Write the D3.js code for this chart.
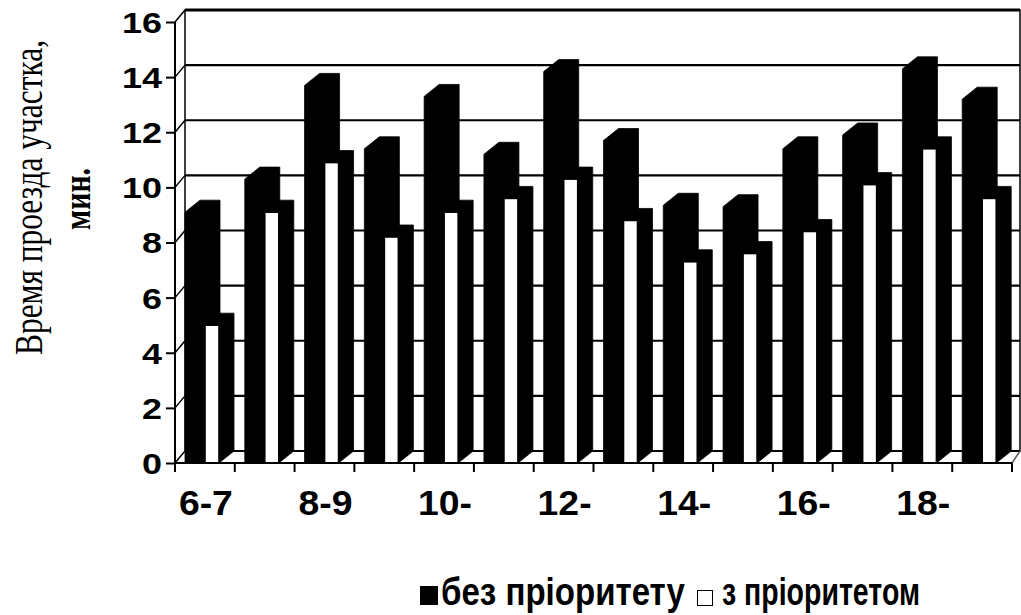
<!DOCTYPE html>
<html><head><meta charset="utf-8">
<script src="https://cdn.jsdelivr.net/npm/d3@7"></script>
<style>html,body{margin:0;padding:0;background:#fff;}svg{display:block;}</style>
</head><body>
<svg id="chart" width="1021" height="615"></svg>
<script>
const categories = ["6-7","7-8","8-9","9-10","10-11","11-12","12-13","13-14","14-15","15-16","16-17","17-18","18-19","19-20"];
const tickLabels = ["6-7","8-9","10-","12-","14-","16-","18-"];
const seriesNames = ["без пріоритету","з пріоритетом"];
const noPriority = [9.1,10.3,13.7,11.4,13.3,11.2,14.2,11.7,9.35,9.3,11.4,11.9,14.3,13.2];
const withPriority = [5.0,9.1,10.9,8.2,9.1,9.6,10.3,8.8,7.3,7.6,8.4,10.1,11.4,9.6];
const yTicks = [0,2,4,6,8,10,12,14,16];
const yTitle = ["Время проезда участка,","мин."];

const svg = d3.select("#chart");
const x = d3.scaleBand().domain(categories).range([175,1012]).padding(0);
const y = d3.scaleLinear().domain([0,16]).range([463,22]);
const wallDx = 10, wallDy = 12;
const barDx = 15, barDy = 12;
const backR = 1020;

// back wall
svg.append("rect").attr("x",175+wallDx).attr("y",y(16)-wallDy).attr("width",backR-175-wallDx).attr("height",y(0)-y(16)).attr("fill","#fff").attr("stroke","#000").attr("stroke-width",1.5);
svg.append("g").selectAll("line").data(yTicks).join("line")
  .attr("x1",175+wallDx).attr("x2",backR)
  .attr("y1",d=>y(d)-wallDy).attr("y2",d=>y(d)-wallDy)
  .attr("stroke","#000").attr("stroke-width",d=>d===16?3:2.2);
// left wall
svg.append("line").attr("x1",175).attr("x2",175).attr("y1",y(0)).attr("y2",y(16)).attr("stroke","#000").attr("stroke-width",2);
svg.append("g").selectAll("line").data(yTicks).join("line")
  .attr("x1",175).attr("y1",d=>y(d)).attr("x2",175+wallDx).attr("y2",d=>y(d)-wallDy)
  .attr("stroke","#000").attr("stroke-width",1.5);
svg.append("line").attr("x1",x.range()[1]).attr("y1",y(0)).attr("x2",backR).attr("y2",y(0)-wallDy).attr("stroke","#555").attr("stroke-width",1.5);

// y axis
const yAxis = svg.append("g").attr("transform","translate(175,0)")
  .call(d3.axisLeft(y).tickValues(yTicks).tickSize(9).tickSizeOuter(0));
yAxis.select(".domain").remove();
yAxis.selectAll(".tick line").attr("stroke","#000").attr("stroke-width",2);
yAxis.selectAll(".tick text")
  .attr("font-family","'Liberation Sans', Arial, sans-serif").attr("font-weight","bold")
  .attr("font-size",29).attr("fill","#000").attr("x",-13).attr("dy","0.36em")
  .attr("textLength",d=>String(d).length*20).attr("lengthAdjust","spacingAndGlyphs");

// bars
const g = svg.append("g");
function bar(x0, w, v, frontFill){
  const x1 = x0 + w, yt = y(v), yb = y(0);
  g.append("path")
    .attr("d",`M${x0},${yb}L${x0},${yt}L${x0+barDx},${yt-barDy}L${x1+barDx},${yt-barDy}L${x1+barDx},${yb-barDy}L${x1},${yb}Z`)
    .attr("fill","#000").attr("stroke","#000").attr("stroke-width",0.8);
  if(frontFill!=="#000"){
    g.append("rect").attr("x",x0+0.8).attr("y",yt+0.8).attr("width",w-1.6).attr("height",yb-yt-0.8).attr("fill",frontFill);
  }
}
categories.forEach((c,i)=>{
  const cx = x(c);
  bar(cx+10, 20, noPriority[i], "#000");
  bar(cx+30, 14, withPriority[i], "#fff");
});

// floor front line and category ticks
svg.append("line").attr("x1",175).attr("x2",x.range()[1]).attr("y1",y(0)).attr("y2",y(0)).attr("stroke","#000").attr("stroke-width",2);
const bounds = categories.map(c=>x(c)).concat([x.range()[1]]);
svg.append("g").selectAll("line").data(bounds).join("line")
  .attr("x1",d=>d).attr("x2",d=>d).attr("y1",y(0)).attr("y2",y(0)+9).attr("stroke","#000").attr("stroke-width",2);
svg.append("g").selectAll("text").data(tickLabels).join("text")
  .attr("x",(d,i)=>x(categories[i*2])+x.bandwidth()/2+1).attr("y",515)
  .attr("text-anchor","middle").attr("font-family","'Liberation Sans', Arial, sans-serif")
  .attr("font-weight","bold").attr("font-size",35).attr("fill","#000")
  .attr("textLength",54).attr("lengthAdjust","spacingAndGlyphs").text(d=>d);

// y title
svg.append("g").attr("transform","translate(42,355) rotate(-90)")
  .append("text").attr("x",0).attr("y",0).attr("text-anchor","start")
  .attr("font-family","'Liberation Serif', 'Times New Roman', serif")
  .attr("font-size",40).attr("fill","#000")
  .attr("textLength",315).attr("lengthAdjust","spacingAndGlyphs").text(yTitle[0]);
svg.append("g").attr("transform","translate(90,230) rotate(-90)")
  .append("text").attr("x",0).attr("y",0).attr("text-anchor","start")
  .attr("font-family","'Liberation Serif', 'Times New Roman', serif")
  .attr("font-weight","bold").attr("font-size",38).attr("fill","#000")
  .attr("textLength",62).attr("lengthAdjust","spacingAndGlyphs").text(yTitle[1]);

// legend
const lg = svg.append("g");
lg.append("rect").attr("x",420).attr("y",586).attr("width",18).attr("height",19).attr("fill","#000");
lg.append("text").attr("x",441).attr("y",605).attr("font-family","'Liberation Sans', Arial, sans-serif")
  .attr("font-weight","bold").attr("font-size",39).attr("fill","#000").attr("textLength",244).attr("lengthAdjust","spacingAndGlyphs").text(seriesNames[0]);
lg.append("rect").attr("x",697.5).attr("y",590.5).attr("width",15).attr("height",15).attr("fill","#fff").attr("stroke","#000").attr("stroke-width",1);
lg.append("text").attr("x",722).attr("y",605).attr("font-family","'Liberation Sans', Arial, sans-serif")
  .attr("font-weight","bold").attr("font-size",39).attr("fill","#000").attr("textLength",198).attr("lengthAdjust","spacingAndGlyphs").text(seriesNames[1]);
</script>
</body></html>
